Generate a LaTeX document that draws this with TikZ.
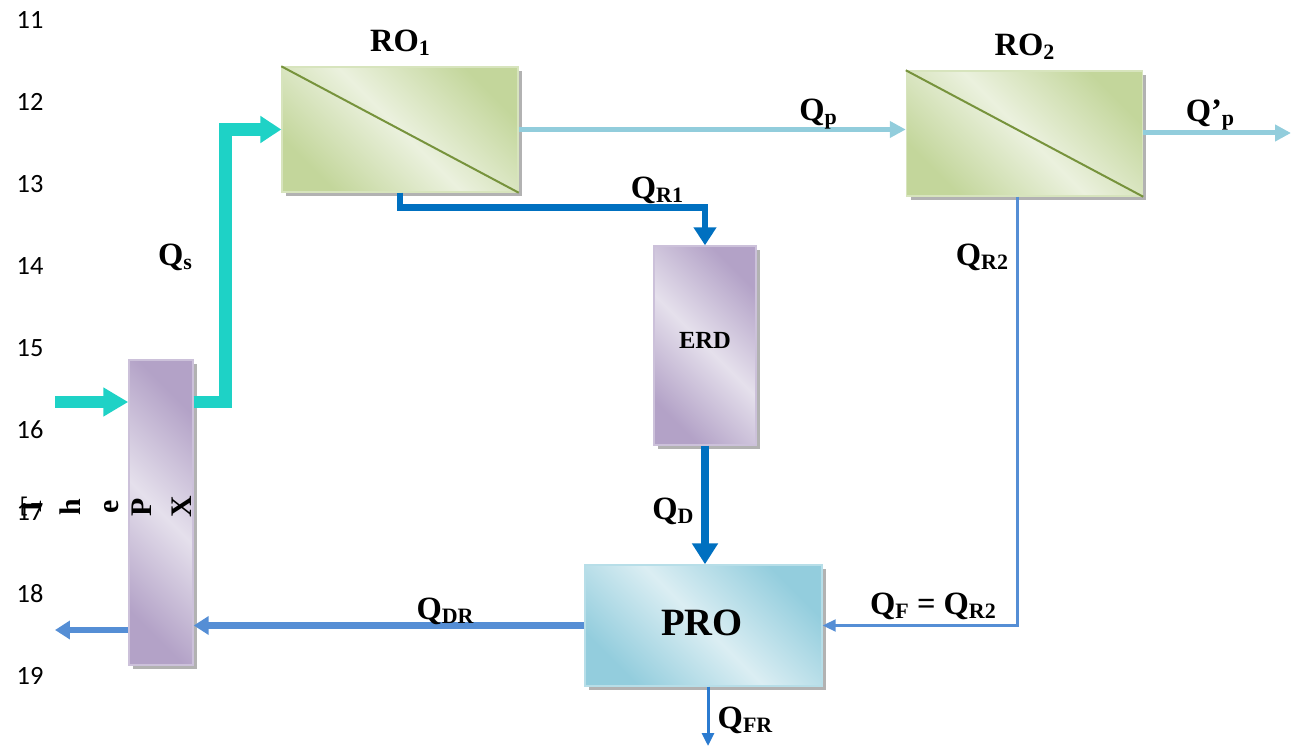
\documentclass[tikz,border=0pt]{standalone}
\usepackage{fontspec}
\setmainfont{Liberation Serif}
\newfontfamily\numfont{Carlito}
\usetikzlibrary{arrows.meta, positioning, calc, shadows}
\definecolor{mCyan}{HTML}{1ED2C6}
\definecolor{mSky}{HTML}{92CDDC}
\definecolor{mBlue}{HTML}{0070C0}
\definecolor{mSteel}{HTML}{558ED5}
\definecolor{mAzure}{HTML}{2B7BD0}
\definecolor{mGreenD}{HTML}{C3D69B}
\definecolor{mGreenL}{HTML}{EBF1DE}
\definecolor{mGreenE}{HTML}{D7E4BD}
\definecolor{mOlive}{HTML}{77933C}
\definecolor{mPurpD}{HTML}{B3A2C7}
\definecolor{mPurpL}{HTML}{E5E0EC}
\definecolor{mPurpE}{HTML}{CCC1DA}
\definecolor{mTealD}{HTML}{93CDDD}
\definecolor{mTealL}{HTML}{DBEEF3}
\definecolor{mTealE}{HTML}{B7DEE8}
\newcommand{\sbs}[1]{\raisebox{-0.3ex}{\fontsize{12.5}{13}\selectfont #1}}

\begin{document}
\begin{tikzpicture}[x=0.02cm, y=-0.02cm,
      lbl/.style={font=\bfseries\fontsize{18.5}{20}\selectfont, inner sep=0pt},
      num/.style={font=\numfont\fontsize{15}{16}\selectfont, inner sep=0pt},
      unit/.style={rectangle, line width=0.03cm, shading=axis,
        drop shadow={shadow xshift=0.08cm, shadow yshift=-0.08cm, fill=black, opacity=0.3}},
      robox/.style={unit, minimum width=4.72cm, minimum height=2.5cm, draw=mGreenE,
        top color=mGreenD, bottom color=mGreenD, middle color=mGreenL, shading angle=-45},
      pubox/.style={unit, draw=mPurpE,
        top color=mPurpD, bottom color=mPurpD, middle color=mPurpL, shading angle=-45},
      probox/.style={unit, minimum width=4.74cm, minimum height=2.42cm, draw=mTealE,
        top color=mTealD, bottom color=mTealD, middle color=mTealL, shading angle=-45}]
    \useasboundingbox (0,0) rectangle (1291,746);
    % row numbers
    \foreach \n [count=\i from 0] in {11,...,19}
      \node[num] (row\n) at (30,20+82*\i) {\n};
    % units
    \node[robox] (ro1) at (400,129.5) {};
    \node[robox] (ro2) at (1024.5,133.5) {};
    \node[pubox, minimum width=2.04cm, minimum height=3.98cm] (erd) at (705,345.5) {};
    \node[pubox, minimum width=1.28cm, minimum height=6.1cm] (px) at (161,512.5) {};
    \node[probox] (pro) at (703.5,625.5) {};
    \draw[mOlive, line width=0.04cm] (ro1.north west) -- (ro1.south east);
    \draw[mOlive, line width=0.04cm] (ro2.north west) -- (ro2.south east);
    \node[lbl, above=0.2cm of ro1] (ro1lbl) {RO\sbs{1}};
    \node[lbl, above=0.2cm of ro2] (ro2lbl) {RO\sbs{2}};
    \node[lbl, font=\bfseries\fontsize{14}{16}\selectfont] (erdlbl) at (705,340) {ERD};
    \node[lbl, font=\bfseries\fontsize{22}{24}\selectfont] (prolbl) at (702,623) {PRO};
    \foreach \c/\x in {T/32, h/70, e/112, P/142, X/182}
      \node[lbl, rotate=90, font=\bfseries\fontsize{17}{18}\selectfont] (px\c) at (\x,507) {\c};
    % free ends
    \coordinate (feedin) at (55,402);
    \coordinate (riser) at (225,402);
    \coordinate (prodout) at (1291,133);
    \coordinate (drainout) at (55,630);
    \coordinate (frout) at (708,746);
    % flows
    \draw[mCyan, line width=0.26cm, -{Triangle[length=0.5cm, width=0.55cm]}]
      (feedin) -- (feedin -| px.west);
    \draw[mCyan, line width=0.26cm, -{Triangle[length=0.42cm, width=0.52cm]}]
      (px.east |- feedin) -- (riser) |- (ro1.west);
    \draw[mSky, line width=0.1cm, -{Triangle[length=0.32cm, width=0.32cm]}]
      (ro1.east) -- (ro1.east -| ro2.west);
    \draw[mSky, line width=0.1cm, -{Triangle[length=0.32cm, width=0.32cm]}]
      (ro2.east |- prodout) -- (prodout);
    \draw[mBlue, line width=0.13cm, -{Triangle[length=0.36cm, width=0.44cm]}]
      (ro1.south) -- ++(0,15) -| (erd.north);
    \draw[mBlue, line width=0.16cm, -{Triangle[length=0.42cm, width=0.5cm]}]
      (erd.south) -- (erd.south |- pro.north);
    \draw[mSteel, line width=0.045cm, -{Triangle[length=0.26cm, width=0.24cm]}]
      ($(ro2.south)+(-7,0)$) |- (pro.east);
    \draw[mSteel, line width=0.13cm, -{Triangle[length=0.3cm, width=0.36cm]}]
      (pro.west) -- (pro.west -| px.east);
    \draw[mSteel, line width=0.13cm, -{Triangle[length=0.3cm, width=0.36cm]}]
      (px.west |- drainout) -- (drainout);
    \draw[mAzure, line width=0.06cm, -{Triangle[length=0.26cm, width=0.24cm]}]
      (pro.south -| frout) -- (frout);
    % flow labels
    \node[lbl] (qs) at (175,257) {Q\sbs{s}};
    \node[lbl] (qp) at (818,114) {Q\sbs{p}};
    \node[lbl] (qpp) at (1210,115) {Q’\sbs{p}};
    \node[lbl] (qr1) at (657,190) {Q\sbs{R1}};
    \node[lbl] (qr2) at (982,257) {Q\sbs{R2}};
    \node[lbl] (qd) at (673,511) {Q\sbs{D}};
    \node[lbl] (qf) at (933,606) {Q\sbs{F} = Q\sbs{R2}};
    \node[lbl] (qdr) at (445,611) {Q\sbs{DR}};
    \node[lbl] (qfr) at (745,720) {Q\sbs{FR}};
  \end{tikzpicture}
\end{document}
